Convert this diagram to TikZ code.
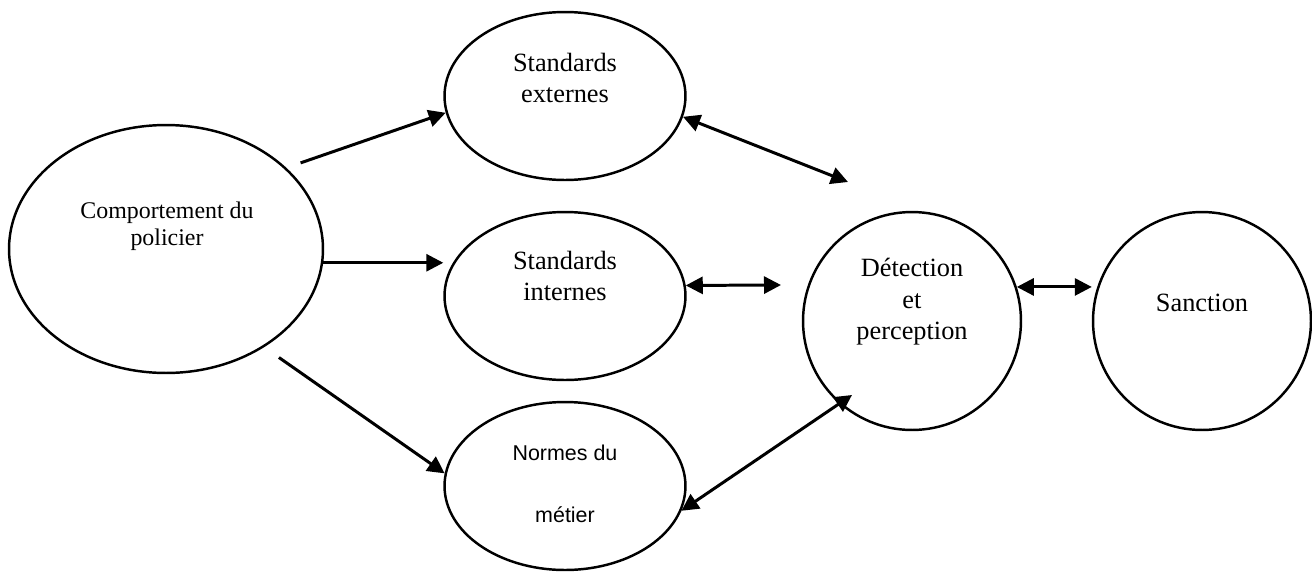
\documentclass[tikz,border=0pt]{standalone}
\usepackage{fontspec}
\setmainfont{Liberation Serif}
\newfontfamily\arialfont{Liberation Sans}
\usetikzlibrary{arrows.meta,shapes.geometric}

\begin{document}
\begin{tikzpicture}[x=0.02cm, y=-0.02cm, >={Triangle[length=0.34cm,width=0.34cm]},
    bulle/.style={draw, ellipse, line width=1.4pt, inner sep=0pt},
    petite/.style={bulle, minimum width=4.82cm, minimum height=3.36cm},
    rond/.style={draw, circle, line width=1.4pt, inner sep=0pt, minimum size=4.36cm},
    texte/.style={align=center, font=\fontsize{15}{17.9}\selectfont},
    fleche/.style={->, line width=1.7pt},
    dfleche/.style={<->, line width=1.7pt}]
  \useasboundingbox (0,0) rectangle (1312,572);

  % les bulles
  \node[bulle, minimum width=6.28cm, minimum height=4.96cm] (comp) at (166,249) {};
  \node[petite] (ext) at (565,96) {};
  \node[petite] (int) at (565,296) {};
  \node[petite] (norm) at (565,486) {};
  \node[rond] (det) at (912,321) {};
  \node[rond] (sanc) at (1202,321) {};

  % les textes
  \node[texte, font=\fontsize{13.6}{15.3}\selectfont] (compT) at (167,226)
    {Comportement du\\policier};
  \node[texte] (extT) at (565,78) {Standards\\externes};
  \node[texte] (intT) at (565,276) {Standards\\internes};
  \node[texte, font=\arialfont\fontsize{12.2}{35.2}\selectfont] (normT) at (565,484)
    {Normes du\\m\'etier};
  \node[texte] (detT) at (912,302) {D\'etection\\et\\perception};
  \node[texte] (sancT) at (1202,303) {Sanction};

  % bouts libres
  \coordinate (extBout) at (848,182);
  \coordinate (intBout) at (781,285);
  \coordinate (normBout) at (852,395);

  % les fleches
  \draw[fleche, shorten <=0.3cm] (comp.34) -- (ext.188);
  \draw[fleche] (comp.-5) -- (comp.-5 -| int.west);
  \draw[fleche, shorten <=0.36cm] (comp.-45) -- (norm.174);
  \draw[dfleche] (ext.-10) -- (extBout);
  \draw[dfleche] (int.5) -- (intBout);
  \draw[dfleche] (norm.-12) -- (normBout);
  \draw[dfleche] (det.18) -- (det.18 -| sanc.west);
\end{tikzpicture}
\end{document}
